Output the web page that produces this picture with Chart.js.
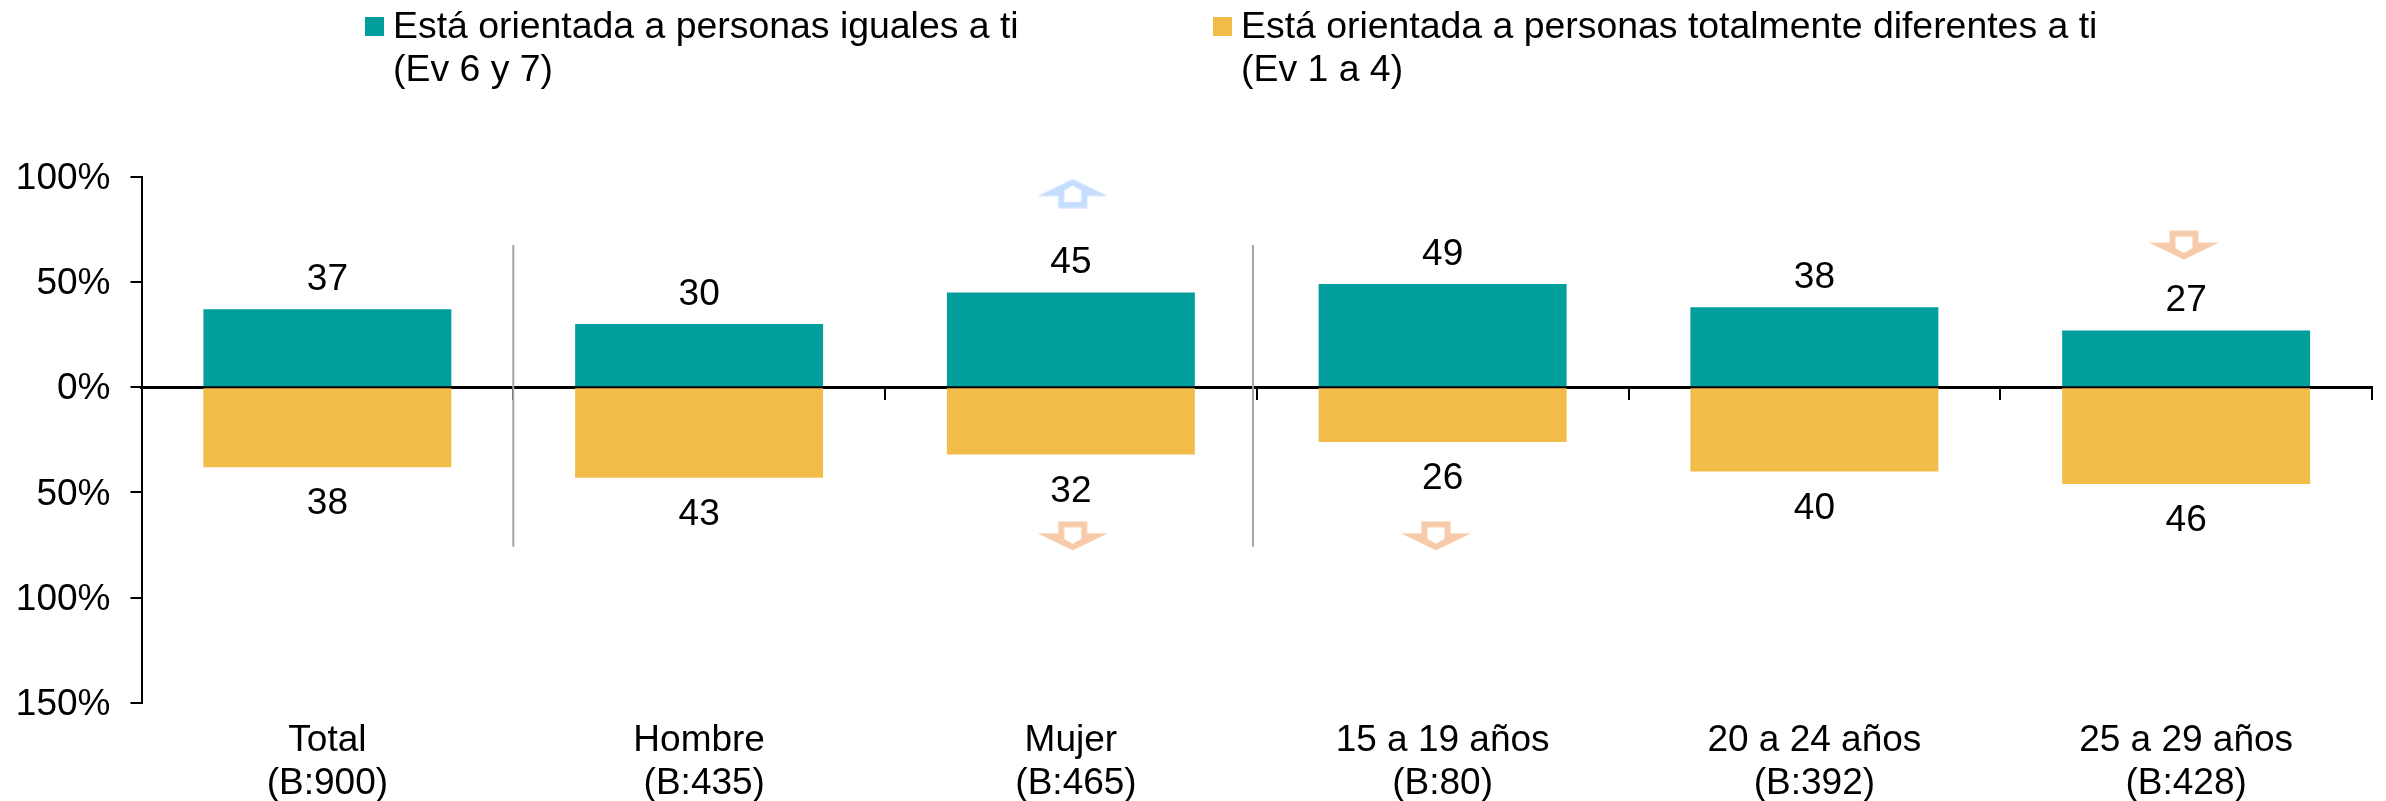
<!DOCTYPE html>
<html lang="es">
<head>
<meta charset="utf-8">
<style>html,body{margin:0;padding:0;background:#fff}canvas{display:block}</style>
<script src="https://cdn.jsdelivr.net/npm/chart.js@4/dist/chart.umd.min.js"></script>
</head>
<body>
<canvas id="c" width="2386" height="801"></canvas>
<script>
const categories = [["Total","(B:900)"],["Hombre"," (B:435)"],["Mujer"," (B:465)"],["15 a 19 años","(B:80)"],["20 a 24 años","(B:392)"],["25 a 29 años","(B:428)"]];
const iguales = [37,30,45,49,38,27];
const diferentes = [-38,-43,-32,-26,-40,-46];
const legendIguales = ["Está orientada a personas iguales a ti","(Ev 6 y 7)"];
const legendDiferentes = ["Está orientada a personas totalmente diferentes a ti","(Ev 1 a 4)"];
const arrowsUp = [{x:2.005,y:92}];
const arrowsDown = [{x:2.005,y:-70.6},{x:2.982,y:-70.6},{x:4.994,y:67.5}];
const separatorA = [{x:0.5,y:67.6},{x:0.5,y:-75.8}];
const separatorB = [{x:2.49,y:67.6},{x:2.49,y:-75.8}];

const FAMILY = '"Liberation Sans", Arial, sans-serif';
const SIZE = 37;
const FONT = SIZE + 'px ' + FAMILY;
const LEGEND_FONT = '37.4px ' + FAMILY;
const TEAL = '#029E9C', AMBER = '#F1BD48';

function arrow(up, color){
  const c = document.createElement('canvas'); c.width = 72; c.height = 30;
  const g = c.getContext('2d');
  if(!up){ g.translate(0,30); g.scale(1,-1); }
  g.fillStyle = color;
  g.beginPath();
  g.moveTo(36,0.5);g.lineTo(71,17.5);g.lineTo(50.5,17.5);g.lineTo(50.5,29.5);g.lineTo(21.5,29.5);g.lineTo(21.5,17.5);g.lineTo(1,17.5);
  g.closePath();g.fill();
  g.fillStyle = '#fff';
  g.beginPath();
  g.moveTo(36,7);g.lineTo(44.5,12);g.lineTo(44.5,23.5);g.lineTo(27.5,23.5);g.lineTo(27.5,12);
  g.closePath();g.fill();
  return c;
}

const valueLabels = {
  id:'valueLabels',
  afterDatasetsDraw(chart){
    const g = chart.ctx; g.save();
    g.font = FONT; g.fillStyle = '#000'; g.textAlign = 'center'; g.textBaseline = 'middle';
    [0,1].forEach(i=>{
      const ds = chart.data.datasets[i];
      chart.getDatasetMeta(i).data.forEach((el,k)=>{
        const v = ds.data[k];
        g.fillText(String(Math.abs(v)), el.x, el.y + (v>0 ? -29.5 : 37));
      });
    });
    g.restore();
  }
};

const topLegend = {
  id:'topLegend',
  afterDraw(chart){
    const g = chart.ctx; g.save();
    g.font = LEGEND_FONT; g.textAlign = 'left'; g.textBaseline = 'middle';
    [[0,365],[1,1213]].forEach(([i,x])=>{
      const ds = chart.data.datasets[i];
      g.fillStyle = ds.backgroundColor;
      g.fillRect(x,17,19,19);
      g.fillStyle = '#000';
      ds.label.forEach((t,n)=>g.fillText(t,x+28,28+n*43));
    });
    g.restore();
  }
};

const lineDs = (data)=>({type:'line',data,xAxisID:'xNum',yAxisID:'y',borderColor:'#A6A6A6',borderWidth:2,pointRadius:0,fill:false});
const arrowDs = (data,img)=>({type:'line',data,xAxisID:'xNum',yAxisID:'y',showLine:false,pointStyle:img,pointRadius:15});
const barDs = (label,data,color)=>({type:'bar',label,data,backgroundColor:color,xAxisID:'x',yAxisID:'y',categoryPercentage:1,barPercentage:0.667,grouped:false});

new Chart(document.getElementById('c'),{
  data:{
    labels:categories,
    datasets:[
      barDs(legendIguales,iguales,TEAL),
      barDs(legendDiferentes,diferentes,AMBER),
      lineDs(separatorA),
      lineDs(separatorB),
      arrowDs(arrowsUp,arrow(true,'#C5DEFF')),
      arrowDs(arrowsDown,arrow(false,'#F7CBA9'))
    ]
  },
  options:{
    responsive:false,animation:false,
    layout:{autoPadding:false,padding:{top:176.7,right:14,left:0,bottom:0}},
    plugins:{legend:{display:false},tooltip:{enabled:false}},
    scales:{
      x:{type:'category',position:'bottom',offset:true,
        grid:{display:false},border:{display:false},
        ticks:{font:{family:FAMILY,size:SIZE,lineHeight:1.15},color:'#000',padding:9,maxRotation:0,autoSkip:false},
        afterFit(s){s.height=98;s.paddingLeft=0;s.paddingRight=0;}},
      xLine:{type:'category',position:{y:0},offset:true,
        grid:{display:true,drawOnChartArea:false,drawTicks:true,tickLength:11,color:'#000',lineWidth:2,offset:true},
        border:{display:true,color:'#000',width:3},
        ticks:{display:false},afterFit(s){s.height=0;s.paddingLeft=0;s.paddingRight=0;}},
      xNum:{type:'linear',min:-0.5,max:5.5,display:false},
      y:{min:-150,max:100,
        grid:{display:true,drawOnChartArea:false,drawTicks:true,tickLength:11,color:'#000',lineWidth:2},
        border:{display:true,color:'#000',width:2},
        ticks:{stepSize:50,font:{family:FAMILY,size:SIZE},color:'#000',padding:20,labelOffset:2,
          callback:v=>Math.abs(v)+'%'},
        afterFit(s){s.width=141.5;s.paddingTop=0;s.paddingBottom=0;}}
    }
  },
  plugins:[valueLabels,topLegend]
});
</script>
</body>
</html>
